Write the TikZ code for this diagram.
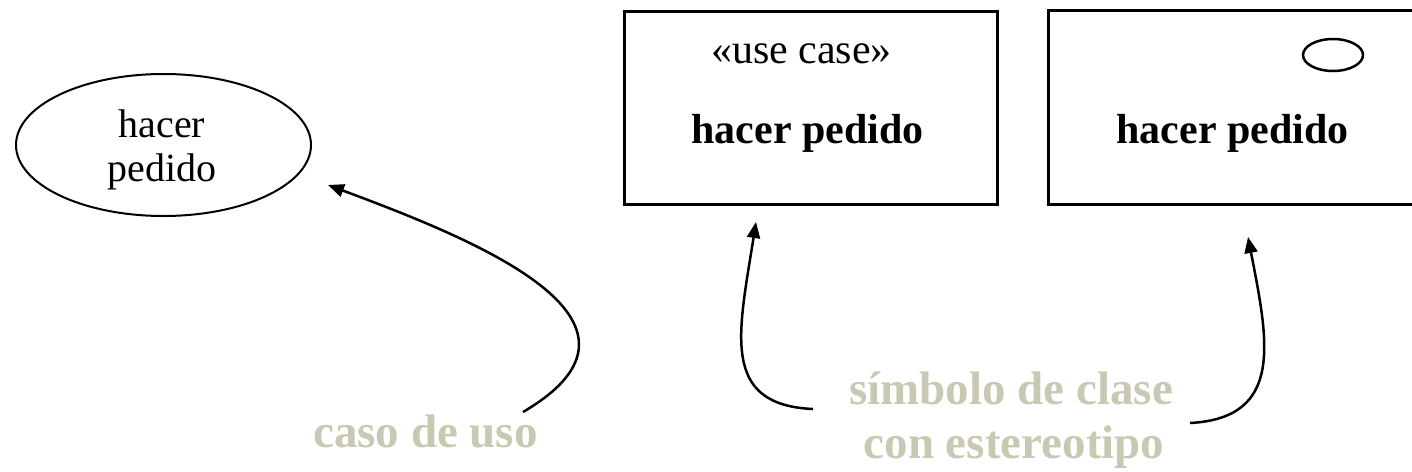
\documentclass[tikz,border=0pt]{standalone}
\usepackage{fontspec}
\setmainfont{Liberation Serif}
\usetikzlibrary{shapes.geometric,arrows.meta}
\definecolor{etiqueta}{RGB}{201,200,178}
\begin{document}
\begin{tikzpicture}[x=1pt,y=-1pt,
	caja/.style={draw, line width=3pt, inner sep=0pt},
	flecha/.style={line width=2.5pt, -{Triangle[length=16pt,width=13pt]}},
	nota/.style={text=etiqueta, font=\fontsize{47}{54}\selectfont\bfseries, anchor=base}]
\useasboundingbox (0,0) rectangle (1412,471);
\clip (0,0) rectangle (1412,471);
% Caso de uso:
	\node [draw, ellipse, line width=2pt, inner sep=0pt, minimum width=295pt, minimum height=142pt] (caso) at (163.5,145) {};
	\node [align=center, font=\fontsize{40}{44}\selectfont] (nombreCaso) at (162,150) {hacer\\pedido};
% Clase con estereotipo
	\node [caja, minimum width=373pt, minimum height=193pt] (claseUso) at (811,108) {};
	\node [anchor=base, font=\fontsize{42}{48}\selectfont] (estereotipo) at (801.5,63) {«use case»};
	\node [anchor=base, font=\fontsize{42}{48}\selectfont\bfseries] (nombreUso) at (807.5,143) {hacer pedido};
% Clase con icono
	\node [caja, minimum width=381.5pt, minimum height=194pt] (claseIcono) at (1239.25,107.5) {};
	\node [draw, ellipse, line width=2.5pt, inner sep=0pt, minimum width=60pt, minimum height=32pt] (icono) at (1333,55) {};
	\node [anchor=base, font=\fontsize{42}{48}\selectfont\bfseries] (nombreIcono) at (1232.5,143) {hacer pedido};
% Etiquetas
	\node [nota] (notaCaso) at (425.5,447) {caso de uso};
	\node [nota] (notaClase) at (1011,404) {símbolo de clase};
	\node [nota] (notaEstereotipo) at (1014,458) {con estereotipo};
% Flechas
	\coordinate (inicioCaso) at (523,412);
	\coordinate (puntaCaso) at (328,185);
	\coordinate (inicioUso) at (813,409);
	\coordinate (puntaUso) at (756,222);
	\coordinate (inicioIcono) at (1190,423);
	\coordinate (puntaIcono) at (1248,237);
	\draw [flecha] (inicioCaso) .. controls (680,320) and (470,238) .. (puntaCaso);
	\draw [flecha] (inicioUso) .. controls (720,405) and (738.5,333) .. (puntaUso);
	\draw [flecha] (inicioIcono) .. controls (1285,418) and (1268,340) .. (puntaIcono);
\end{tikzpicture}
\end{document}
